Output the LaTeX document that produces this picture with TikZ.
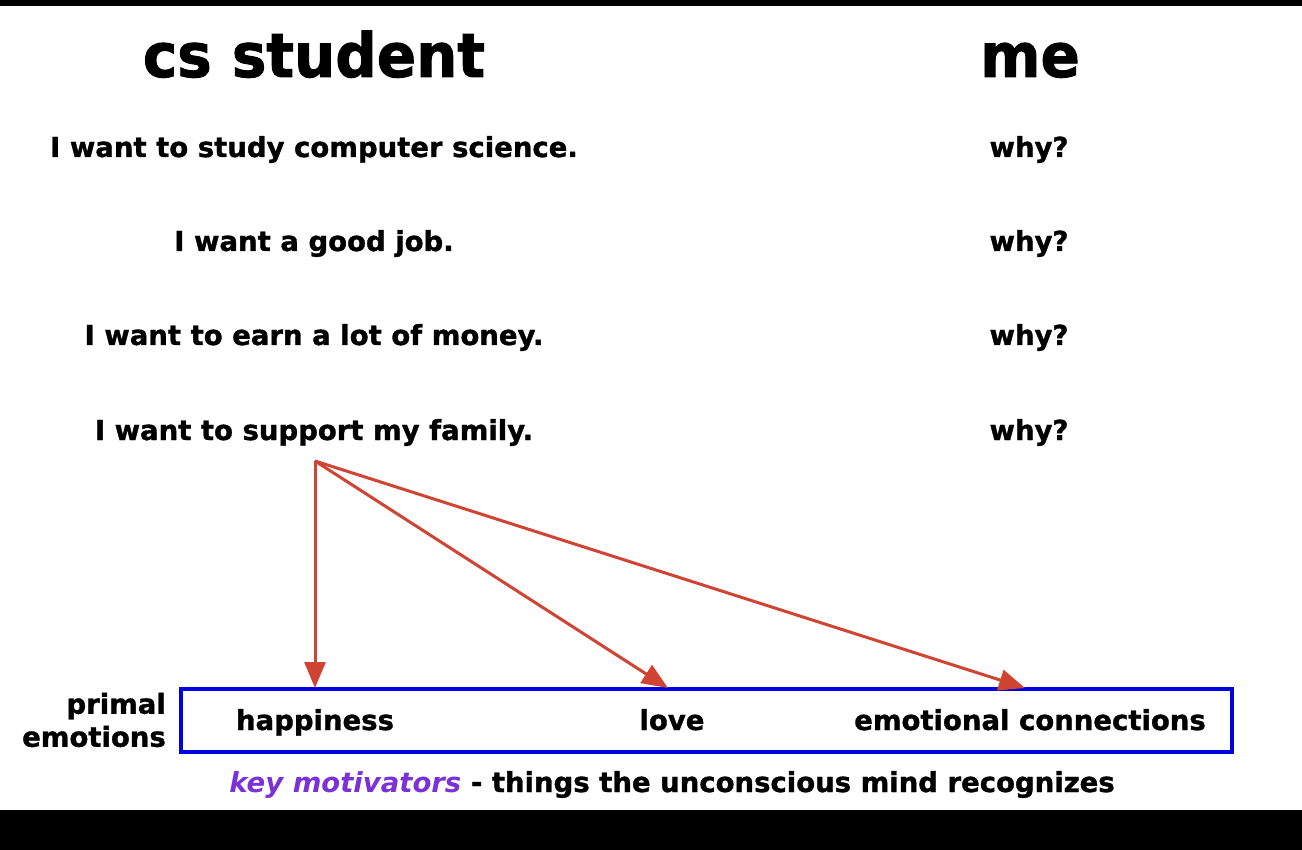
\documentclass[tikz,border=0pt]{standalone}
\usepackage{fontspec}
\setmainfont{DejaVu Sans}[BoldFeatures={FakeBold=1.2}]
\newfontfamily\titlefont{DejaVu Sans}[FakeStretch=0.95, BoldFeatures={FakeBold=1.5}]
\usetikzlibrary{arrows.meta}
\definecolor{arrowred}{RGB}{208,68,52}
\definecolor{boxblue}{RGB}{0,0,225}
\definecolor{keypurple}{RGB}{122,50,214}
\begin{document}
\begin{tikzpicture}[x=1pt,y=-1pt,
  heading/.style={font=\titlefont\bfseries\fontsize{61}{61}\selectfont, anchor=base, inner sep=0pt},
  phrase/.style={font=\bfseries\fontsize{27.5}{30}\selectfont, anchor=base, inner sep=0pt},
  sidelabel/.style={font=\bfseries\fontsize{27.5}{33}\selectfont, align=right, anchor=east, inner sep=0pt},
  emobox/.style={draw=boxblue, line width=4pt},
  link/.style={draw=arrowred, line width=3pt, -{Triangle[length=26pt,width=21pt]}}]
\useasboundingbox (0,0) rectangle (1302,850);
\fill[white] (0,0) rectangle (1302,850);
\fill[black] (0,0) rectangle (1302,6);
\fill[black] (0,810) rectangle (1302,850);

% column headings
\node[heading] (hcs) at (314,77) {cs student};
\node[heading] (hme) at (1030,77) {me};

% statements and questions
\node[phrase] (s1) at (314,157) {I want to study computer science.};
\node[phrase] (s2) at (314,251) {I want a good job.};
\node[phrase] (s3) at (314,345) {I want to earn a lot of money.};
\node[phrase] (s4) at (314,440) {I want to support my family.};
\node[phrase] (w1) at (1029,157) {why?};
\node[phrase] (w2) at (1029,251) {why?};
\node[phrase] (w3) at (1029,345) {why?};
\node[phrase] (w4) at (1029,440) {why?};

% emotions box
\draw[emobox] (181,689) rectangle (1232,752);
\node[phrase] (happy) at (315,730) {happiness};
\node[phrase] (love) at (672,730) {love};
\node[phrase] (conn) at (1030,730) {emotional connections};
\node[sidelabel] (primal) at (166,720) {primal\\emotions};

\node[phrase] (key) at (672,792) {\textcolor{keypurple}{\textit{key motivators}} - things the unconscious mind recognizes};

% arrows from the last statement to each emotion
\coordinate (src) at (315,461);
\coordinate (thappy) at (315,688);
\coordinate (tlove) at (668,688);
\coordinate (tconn) at (1025,688);
\draw[link] (src) -- (thappy);
\draw[link] (src) -- (tlove);
\draw[link] (src) -- (tconn);
\end{tikzpicture}
\end{document}
